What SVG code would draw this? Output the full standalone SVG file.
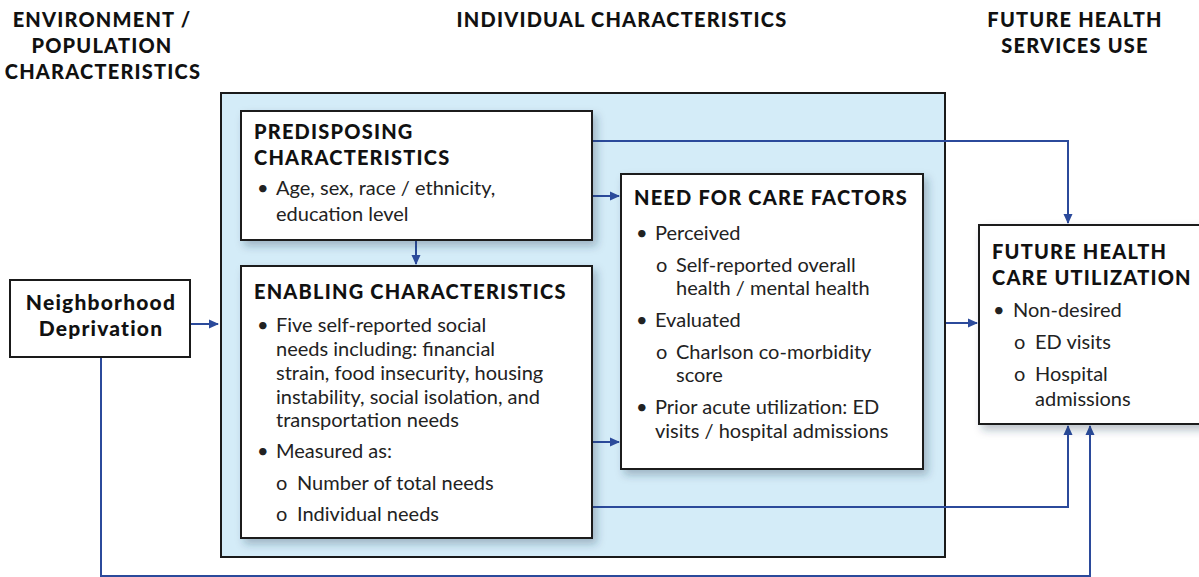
<svg xmlns="http://www.w3.org/2000/svg" width="1199" height="577" viewBox="0 0 1199 577">
<defs>
<style>
.h{font-family:Lato,"Open Sans",sans-serif;font-weight:900;font-size:20px;letter-spacing:1.2px;fill:#111}
.n{font-family:Lato,"Open Sans",sans-serif;font-weight:900;font-size:21px;letter-spacing:1.2px;fill:#111}
.t{font-family:Lato,"Open Sans",sans-serif;font-size:20px;fill:#222}
.box{fill:#fff;stroke:#1a1a1a;stroke-width:2}
.c{fill:none;stroke:#2b4a9b;stroke-width:2}
</style>
<filter id="sh" x="-10%" y="-10%" width="130%" height="130%">
<feDropShadow dx="4" dy="5" stdDeviation="4" flood-color="#1c3550" flood-opacity="0.3"/>
</filter>
<marker id="ar" markerWidth="10" markerHeight="10" refX="9" refY="5" orient="auto" markerUnits="userSpaceOnUse">
<path d="M0,0.5 L10,5 L0,9.5 Z" fill="#2b4a9b"/>
</marker>
</defs>
<rect width="1199" height="577" fill="#fff"/>
<g id="headers">
<text class="h" text-anchor="middle"><tspan x="102" y="27">ENVIRONMENT /</tspan><tspan x="102" y="53">POPULATION</tspan><tspan x="103" y="79">CHARACTERISTICS</tspan></text>
<text class="h" text-anchor="middle" x="622" y="27">INDIVIDUAL CHARACTERISTICS</text>
<text class="h" text-anchor="middle"><tspan x="1075" y="27">FUTURE HEALTH</tspan><tspan x="1075" y="53">SERVICES USE</tspan></text>
</g>
<g id="container">
<rect x="221" y="93" width="724" height="464" fill="#d4ecf8" stroke="#1a1a1a" stroke-width="2"/>
</g>
<g id="connectors">
<path class="c" d="M190,324 H218" marker-end="url(#ar)"/>
<path class="c" d="M416,240 V264" marker-end="url(#ar)"/>
<path class="c" d="M592,196 H619" marker-end="url(#ar)"/>
<path class="c" d="M592,442 H619" marker-end="url(#ar)"/>
<path class="c" d="M592,141 H1068 V223" marker-end="url(#ar)"/>
<path class="c" d="M946,323 H977" marker-end="url(#ar)"/>
<path class="c" d="M592,507 H1068 V426" marker-end="url(#ar)"/>
<path class="c" d="M101,357 V576 H1090 V426" marker-end="url(#ar)"/>
</g>
<g id="neighborhood">
<rect class="box" x="10" y="280" width="180" height="77"/>
<text class="n" text-anchor="middle"><tspan x="101" y="310">Neighborhood</tspan><tspan x="101" y="336">Deprivation</tspan></text>
</g>
<g id="predisposing">
<rect class="box" x="241" y="111" width="351" height="129" filter="url(#sh)"/>
<text class="h"><tspan x="254" y="139">PREDISPOSING</tspan><tspan x="254" y="165">CHARACTERISTICS</tspan></text>
<text class="t"><tspan x="257" y="195">•</tspan><tspan x="276" y="195">Age, sex, race / ethnicity,</tspan><tspan x="276" y="221">education level</tspan></text>
</g>
<g id="enabling">
<rect class="box" x="241" y="266" width="351" height="272" filter="url(#sh)"/>
<text class="h" x="254" y="299">ENABLING CHARACTERISTICS</text>
<text class="t"><tspan x="257" y="332">•</tspan><tspan x="276" y="332">Five self-reported social</tspan><tspan x="276" y="356">needs including: financial</tspan><tspan x="276" y="380">strain, food insecurity, housing</tspan><tspan x="276" y="404">instability, social isolation, and</tspan><tspan x="276" y="427">transportation needs</tspan><tspan x="257" y="458">•</tspan><tspan x="276" y="458">Measured as:</tspan><tspan x="276" y="490">o</tspan><tspan x="297" y="490">Number of total needs</tspan><tspan x="276" y="521">o</tspan><tspan x="297" y="521">Individual needs</tspan></text>
</g>
<g id="need">
<rect class="box" x="621" y="174" width="302" height="295" filter="url(#sh)"/>
<text class="h" x="634" y="205">NEED FOR CARE FACTORS</text>
<text class="t"><tspan x="636" y="240">•</tspan><tspan x="655" y="240">Perceived</tspan><tspan x="656" y="272">o</tspan><tspan x="676" y="272">Self-reported overall</tspan><tspan x="676" y="295">health / mental health</tspan><tspan x="636" y="327">•</tspan><tspan x="655" y="327">Evaluated</tspan><tspan x="656" y="359">o</tspan><tspan x="676" y="359">Charlson co-morbidity</tspan><tspan x="676" y="382">score</tspan><tspan x="636" y="414">•</tspan><tspan x="655" y="414">Prior acute utilization: ED</tspan><tspan x="655" y="438">visits / hospital admissions</tspan></text>
</g>
<g id="future">
<rect class="box" x="979" y="225" width="230" height="199" filter="url(#sh)"/>
<text class="h"><tspan x="992" y="259">FUTURE HEALTH</tspan><tspan x="992" y="285">CARE UTILIZATION</tspan></text>
<text class="t"><tspan x="993" y="317">•</tspan><tspan x="1013" y="317">Non-desired</tspan><tspan x="1014" y="349">o</tspan><tspan x="1035" y="349">ED visits</tspan><tspan x="1014" y="381">o</tspan><tspan x="1035" y="381">Hospital</tspan><tspan x="1035" y="406">admissions</tspan></text>
</g>
</svg>
